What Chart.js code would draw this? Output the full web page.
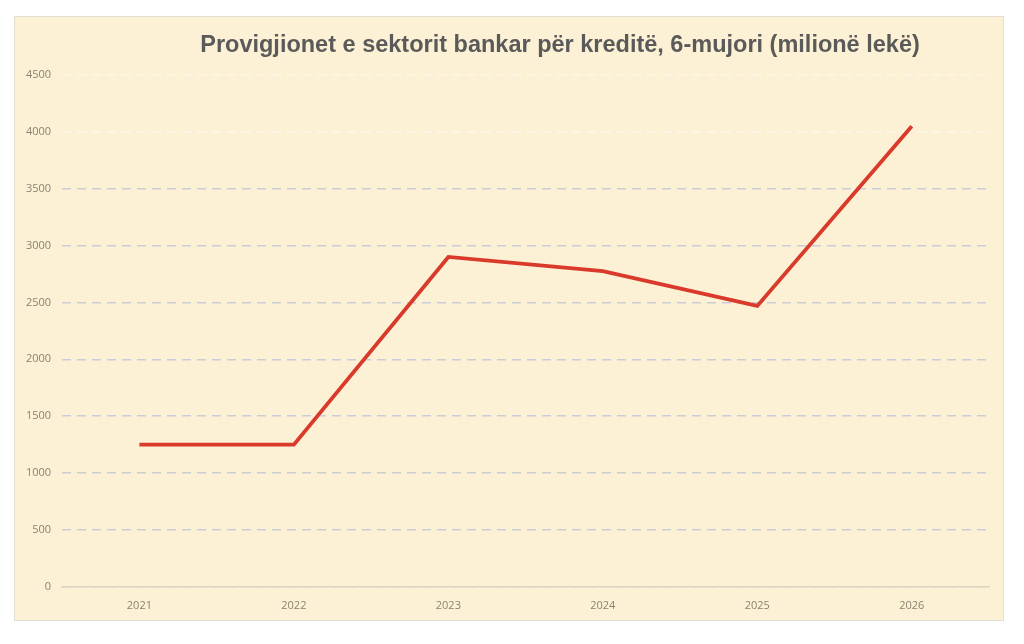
<!DOCTYPE html>
<html>
<head>
<meta charset="utf-8">
<script src="https://cdn.jsdelivr.net/npm/chart.js@4"></script>
<style>
  html, body { margin: 0; padding: 0; background: #ffffff; }
  #box {
    position: absolute; left: 14px; top: 16px; width: 988px; height: 603px;
    background: #fcf1d4; border: 1px solid #e3ddd2;
  }
  #title {
    position: absolute; left: 0; top: 14px; width: 100%; padding-left: 102px; box-sizing: border-box;
    text-align: center; font: bold 23.5px "Liberation Sans", Arial, sans-serif; color: #5a5a5a;
  }
  canvas { position: absolute; left: 0; top: 0; }
</style>
</head>
<body>
<div id="box">
  <canvas id="myChart" width="988" height="603"></canvas>
  <div id="title">Provigjionet e sektorit bankar për kreditë, 6-mujori (milionë lekë)</div>
</div>
<script>
const years = ['2021', '2022', '2023', '2024', '2025', '2026'];
const provisions = [1250, 1250, 2900, 2775, 2470, 4050];
const yTicks = [0, 500, 1000, 1500, 2000, 2500, 3000, 3500, 4000, 4500];

const labelColor = '#8a8371';

const chartEl = document.getElementById('myChart');

window.chart = new Chart(chartEl, {
  type: 'line',
  data: {
    labels: years,
    datasets: [{
      label: 'Provigjionet',
      data: provisions,
      borderColor: '#d93a2b',
      borderWidth: 3.8,
      pointRadius: 0,
      tension: 0,
      fill: false,
    }]
  },
  options: {
    responsive: false,
    animation: false,
    layout: {
      padding: {top: 58, left: 0, right: 14, bottom: 4}
    },
    plugins: {
      legend: {display: false},
      tooltip: {enabled: false},
    },
    scales: {
      x: {
        offset: true,
        grid: {display: false},
        border: {color: '#ddd5c3', width: 1.5},
        ticks: {
          color: labelColor,
          font: {family: 'Open Sans', size: 11},
          padding: 4,
        },
      },
      y: {
        min: 0,
        max: 4500,
        afterBuildTicks: (axis) => {
          axis.ticks = yTicks.map(v => ({value: v}));
        },
        border: {display: false, dash: [9, 6]},
        grid: {
          drawTicks: false,
          lineWidth: 1.6,
          color: (ctx) => {
            if (ctx.tick.value === 0) return '#ddd5c3';
            return ctx.tick.value >= 4000 ? '#fbf7ea' : '#c9cdd8';
          },
        },
        ticks: {
          color: labelColor,
          font: {family: 'Open Sans', size: 11},
          padding: 11,
          callback: (v) => String(v),
        },
      }
    }
  }
});
</script>
</body>
</html>
